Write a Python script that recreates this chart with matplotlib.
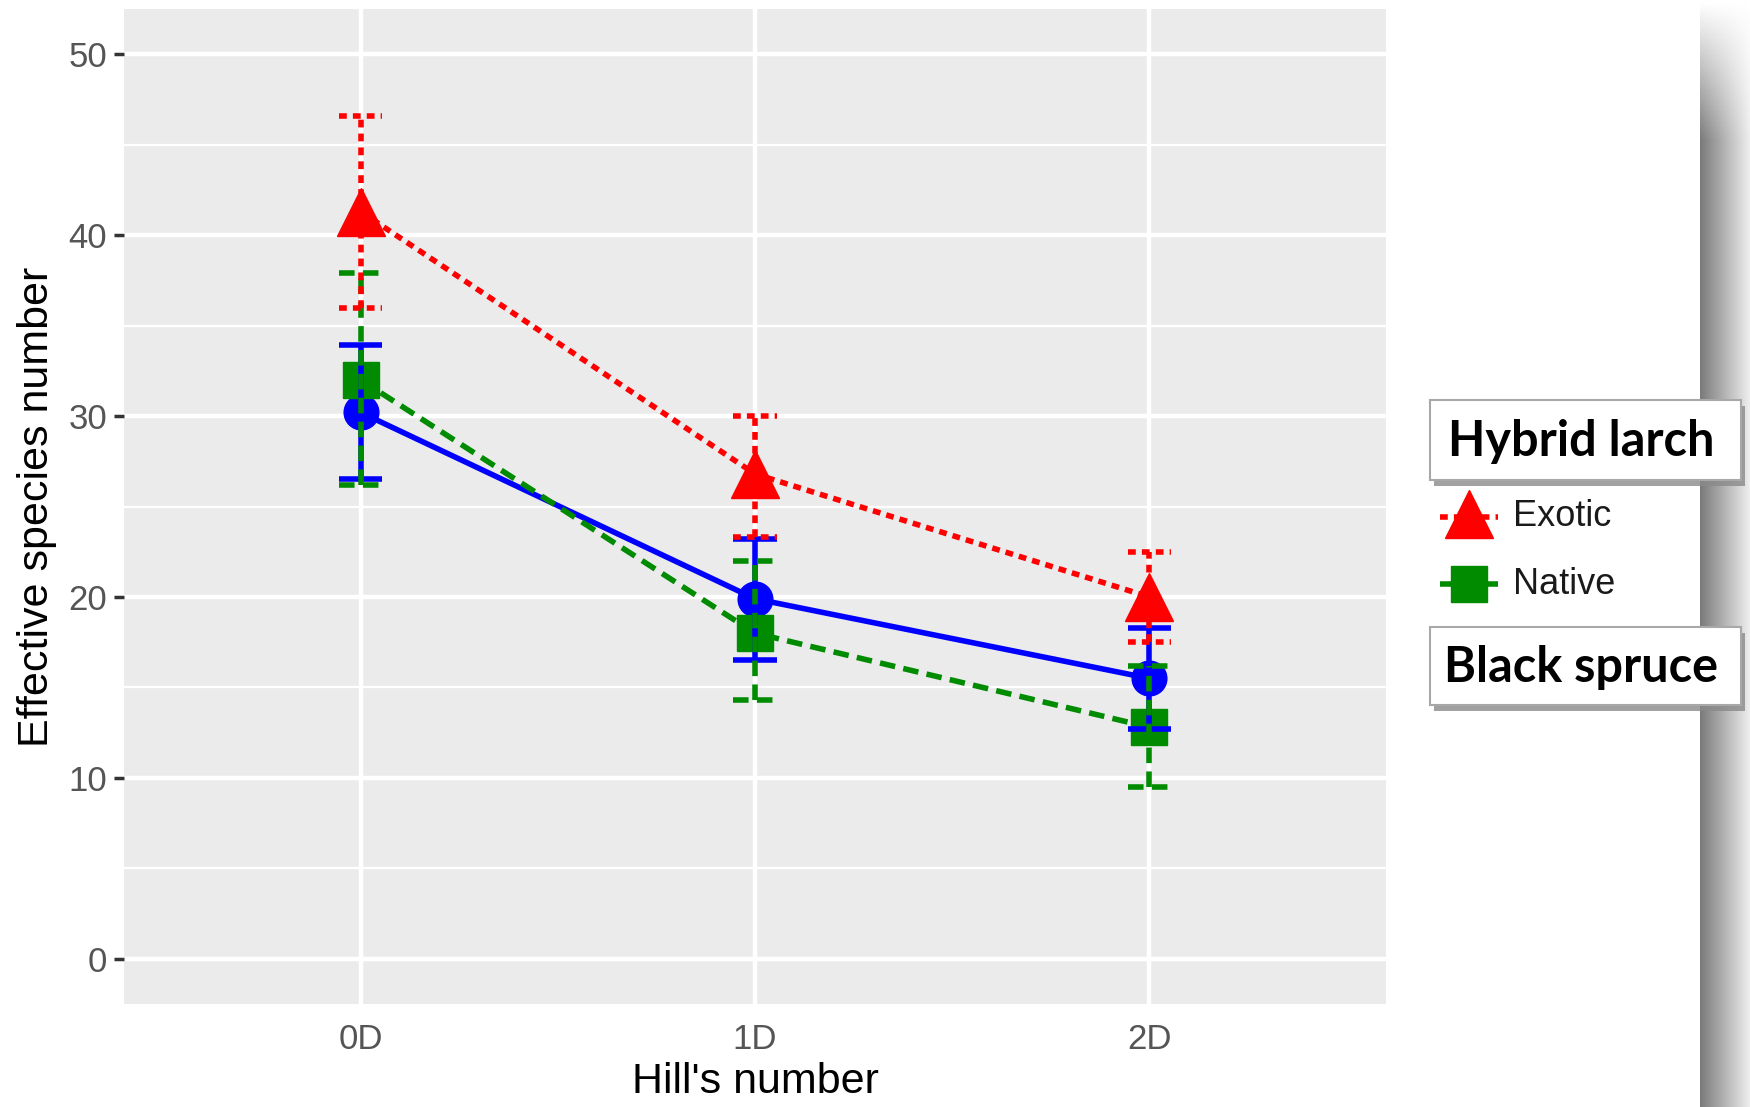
import numpy as np
import matplotlib
matplotlib.use("Agg")
import matplotlib.pyplot as plt
from matplotlib.patches import Rectangle
from matplotlib.lines import Line2D

# data
hill = ["0D", "1D", "2D"]
exotic_mean = [41.3, 26.8, 20.0]
exotic_lo = [36.0, 23.3, 17.5]
exotic_hi = [46.6, 30.0, 22.5]
native_mean = [32.0, 18.0, 12.8]
native_lo = [26.2, 14.3, 9.5]
native_hi = [37.9, 22.0, 16.2]
spruce_mean = [30.2, 19.9, 15.5]
spruce_lo = [26.5, 16.5, 12.7]
spruce_hi = [33.9, 23.2, 18.3]

W, H = 1750, 1107
fig = plt.figure(figsize=(W / 100, H / 100), dpi=100)
fig.patch.set_facecolor("white")

ax = fig.add_axes([124 / W, 1 - 1004 / H, (1386 - 124) / W, (1004 - 9) / H])
ax.set_facecolor("#EBEBEB")
for s in ax.spines.values():
    s.set_visible(False)

x = np.arange(len(hill))
LW = 4.0
red_ls = (0, (1.4, 1.1))
green_ls = (0, (2.8, 1.5))
series = [
    (spruce_mean, spruce_lo, spruce_hi, "#0000FF", "-", "o", 25),
    (native_mean, native_lo, native_hi, "#008B00", green_ls, "s", 26),
    (exotic_mean, exotic_lo, exotic_hi, "#FF0000", red_ls, "^", 34),
]
for mean, lo, hi, col, ls, mk, ms in series:
    ax.plot(x, mean, color=col, lw=LW, ls=ls, zorder=3)
    ax.plot(x, mean, ls="none", marker=mk, ms=ms, color=col, mec=col, zorder=3.5)
    ax.vlines(x, lo, hi, colors=col, lw=LW, linestyles=[ls], zorder=4)
    ax.hlines(lo, x - 0.055, x + 0.055, colors=col, lw=LW, linestyles=[ls], zorder=4)
    ax.hlines(hi, x - 0.055, x + 0.055, colors=col, lw=LW, linestyles=[ls], zorder=4)

ax.set_xlim(-0.6, 2.6)
ax.set_ylim(-2.5, 52.5)
ax.set_xticks(x)
ax.set_xticklabels(hill)
ax.set_yticks([0, 10, 20, 30, 40, 50])
ax.set_yticks([5, 15, 25, 35, 45], minor=True)
ax.grid(which="major", color="white", lw=3.2)
ax.grid(which="minor", axis="y", color="white", lw=1.6)
ax.set_axisbelow(True)
ax.tick_params(axis="both", which="major", length=7, width=2.5, color="#333333",
               labelcolor="#555555", labelsize=25, pad=5)
ax.tick_params(axis="x", length=0, pad=14)
ax.tick_params(which="minor", length=0)
for lab in ax.get_xticklabels() + ax.get_yticklabels():
    lab.set_family("Liberation Sans")
ax.set_xlabel("Hill's number", fontsize=31, family="Liberation Sans", labelpad=4)
ax.set_ylabel("Effective species number", fontsize=31, family="Liberation Sans", labelpad=8)

# overlay in pixel coordinates for the decorations
ov = fig.add_axes([0, 0, 1, 1], zorder=10)
ov.set_xlim(0, W)
ov.set_ylim(H, 0)
ov.axis("off")
ov.patch.set_alpha(0)

# grey shaded strip on the right
grad = np.linspace(0.48, 0.93, 60)[None, :].repeat(200, axis=0)
fade = np.clip(np.linspace(0, 1, 200) * 8, 0, 1)[:, None]
img = 1 - (1 - grad) * fade
ov.imshow(img, cmap="gray", vmin=0, vmax=1, extent=[1700, W, H, 0], aspect="auto", zorder=1)


def label_box(x0, y0, x1, y1, text):
    ov.add_patch(Rectangle((x0 + 4, y0 + 6), x1 - x0, y1 - y0, facecolor="#8a8a8a",
                           edgecolor="none", alpha=0.8, zorder=2))
    ov.add_patch(Rectangle((x0, y0), x1 - x0, y1 - y0, facecolor="white",
                           edgecolor="#a8a8a8", lw=1.5, zorder=3))
    ov.text((x0 + x1) / 2 - 4, (y0 + y1) / 2 + 1, text, ha="center", va="center",
            fontsize=35, fontweight="bold", family="Lato", color="black", zorder=4)


label_box(1430, 400, 1741, 480, "Hybrid larch")
label_box(1430, 627, 1741, 705, "Black spruce")

# legend keys
ov.add_line(Line2D([1440, 1498], [517, 517], color="#FF0000", lw=LW, ls=red_ls, zorder=3))
ov.plot([1469], [514], marker="^", ms=34, color="#FF0000", zorder=3.5)
ov.text(1513, 517, "Exotic", fontsize=26, family="Liberation Sans", color="#1a1a1a", va="center")
ov.add_line(Line2D([1440, 1498], [584, 584], color="#008B00", lw=LW, ls=green_ls, zorder=3))
ov.plot([1469], [584], marker="s", ms=26, color="#008B00", zorder=3.5)
ov.text(1513, 584, "Native", fontsize=26, family="Liberation Sans", color="#1a1a1a", va="center")

fig.savefig("out.png", dpi=100)
